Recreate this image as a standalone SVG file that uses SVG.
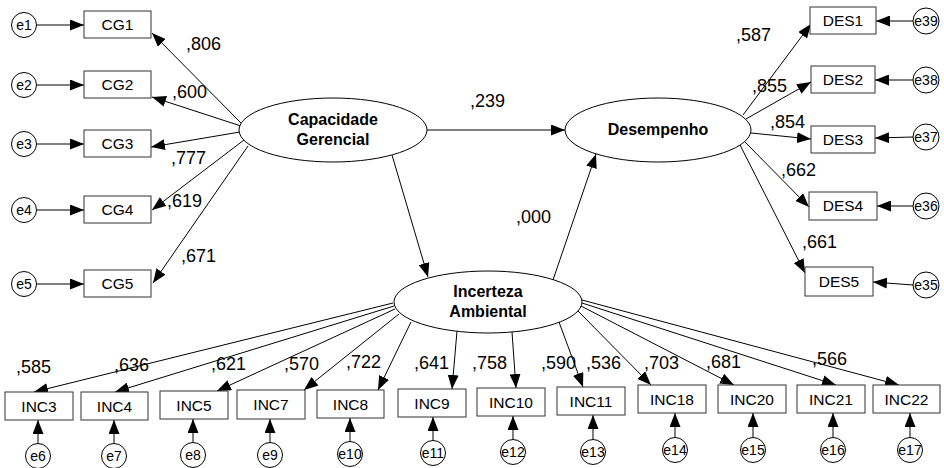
<svg xmlns="http://www.w3.org/2000/svg" width="944" height="468" viewBox="0 0 944 468">
<style>
text{font-family:"Liberation Sans",Arial,sans-serif;fill:#000}
.box{fill:#fff;stroke:#333;stroke-width:1}
.bt{font-size:15.5px;text-anchor:middle}
.err{fill:#fff;stroke:#000;stroke-width:1}
.et{font-size:14px;text-anchor:middle}
.lat{fill:#fff;stroke:#000;stroke-width:1}
.lt{font-size:16px;font-weight:bold;text-anchor:middle}
.num{font-size:18px}
.c line{stroke:#000;stroke-width:1;marker-end:url(#ah)}
</style>
<defs>
<marker id="ah" markerUnits="userSpaceOnUse" markerWidth="14" markerHeight="11" refX="14" refY="5.5" orient="auto"><path d="M0,0 L14,5.5 L0,11 z" fill="#000"/></marker>
</defs>
<rect width="944" height="468" fill="#fff"/>
<g id="connectors" class="c">
<line x1="37" y1="25" x2="84" y2="25"/>
<line x1="37" y1="85" x2="84" y2="85"/>
<line x1="37" y1="144" x2="84" y2="144"/>
<line x1="37" y1="210" x2="84" y2="210"/>
<line x1="37" y1="284" x2="84" y2="284"/>
<line x1="242" y1="124" x2="152" y2="33"/>
<line x1="241" y1="126" x2="152" y2="97"/>
<line x1="240" y1="132" x2="151" y2="147"/>
<line x1="244" y1="140" x2="152" y2="210"/>
<line x1="248" y1="146" x2="153" y2="283"/>
<line x1="427" y1="130" x2="565" y2="130"/>
<line x1="392" y1="155" x2="428" y2="277"/>
<line x1="553" y1="280" x2="596" y2="154"/>
<line x1="743" y1="115" x2="811" y2="24"/>
<line x1="746" y1="119" x2="811" y2="82"/>
<line x1="751" y1="133" x2="811" y2="139"/>
<line x1="745" y1="142" x2="809" y2="207"/>
<line x1="740" y1="145" x2="805" y2="273"/>
<line x1="913" y1="21" x2="876" y2="21"/>
<line x1="913" y1="80" x2="875" y2="80"/>
<line x1="913" y1="137" x2="875" y2="138"/>
<line x1="913" y1="206" x2="877" y2="206"/>
<line x1="913" y1="285" x2="873" y2="282"/>
<line x1="393" y1="303" x2="34" y2="392"/>
<line x1="394" y1="306" x2="115" y2="392"/>
<line x1="395" y1="309" x2="217" y2="391"/>
<line x1="399" y1="314" x2="304" y2="390"/>
<line x1="411" y1="322" x2="378" y2="390"/>
<line x1="457" y1="331" x2="452" y2="389"/>
<line x1="512" y1="332" x2="516" y2="388"/>
<line x1="559" y1="322" x2="583" y2="387"/>
<line x1="578" y1="311" x2="651" y2="385"/>
<line x1="581" y1="306" x2="734" y2="385"/>
<line x1="582" y1="303" x2="836" y2="385"/>
<line x1="582" y1="300" x2="899" y2="385"/>
<line x1="38" y1="443.5" x2="38" y2="420"/>
<line x1="114" y1="443.5" x2="114" y2="420"/>
<line x1="193" y1="442.5" x2="193" y2="419"/>
<line x1="270" y1="442.5" x2="270" y2="419"/>
<line x1="350" y1="441.5" x2="350" y2="418"/>
<line x1="433" y1="440.5" x2="433" y2="417"/>
<line x1="513" y1="439.5" x2="513" y2="416"/>
<line x1="593" y1="439.5" x2="593" y2="415"/>
<line x1="675" y1="437.5" x2="675" y2="413"/>
<line x1="753" y1="437.5" x2="753" y2="413"/>
<line x1="833" y1="437.5" x2="833" y2="413"/>
<line x1="910" y1="437.5" x2="910" y2="413"/>
</g>
<g id="labels" class="num">
<text class="num" x="186" y="50">,806</text>
<text class="num" x="172" y="98">,600</text>
<text class="num" x="171" y="164">,777</text>
<text class="num" x="167" y="207">,619</text>
<text class="num" x="181" y="262">,671</text>
<text class="num" x="470" y="107">,239</text>
<text class="num" x="516" y="223">,000</text>
<text class="num" x="736" y="41">,587</text>
<text class="num" x="752" y="92">,855</text>
<text class="num" x="770" y="128">,854</text>
<text class="num" x="781" y="176">,662</text>
<text class="num" x="802" y="248">,661</text>
<text class="num" x="16" y="373">,585</text>
<text class="num" x="114" y="371">,636</text>
<text class="num" x="211" y="370">,621</text>
<text class="num" x="284" y="370">,570</text>
<text class="num" x="346" y="368">,722</text>
<text class="num" x="414" y="369">,641</text>
<text class="num" x="472" y="369">,758</text>
<text class="num" x="541" y="369">,590</text>
<text class="num" x="586" y="369">,536</text>
<text class="num" x="644" y="369">,703</text>
<text class="num" x="706" y="368">,681</text>
<text class="num" x="812" y="365">,566</text>
</g>
<g id="CapacidadeGerencial"><ellipse class="lat" cx="333" cy="130" rx="94" ry="32"/><text class="lt" x="333" y="125">Capacidade</text><text class="lt" x="333" y="145">Gerencial</text></g>
<g id="Desempenho"><ellipse class="lat" cx="658" cy="130" rx="93" ry="32"/><text class="lt" x="658" y="135">Desempenho</text></g>
<g id="IncertezaAmbiental"><ellipse class="lat" cx="488" cy="302" rx="94" ry="31"/><text class="lt" x="488" y="297">Incerteza</text><text class="lt" x="488" y="317">Ambiental</text></g>
<g id="CG1"><rect class="box" x="84" y="11" width="67" height="27"/><text class="bt" x="117.5" y="30">CG1</text></g>
<g id="CG2"><rect class="box" x="84" y="71" width="67" height="27"/><text class="bt" x="117.5" y="90">CG2</text></g>
<g id="CG3"><rect class="box" x="84" y="130" width="67" height="27"/><text class="bt" x="117.5" y="149">CG3</text></g>
<g id="CG4"><rect class="box" x="84" y="196" width="67" height="27"/><text class="bt" x="117.5" y="215">CG4</text></g>
<g id="CG5"><rect class="box" x="84" y="270" width="67" height="27"/><text class="bt" x="117.5" y="289">CG5</text></g>
<g id="e1"><circle class="err" cx="24" cy="25" r="12.5"/><text class="et" x="24" y="30">e1</text></g>
<g id="e2"><circle class="err" cx="24" cy="85" r="12.5"/><text class="et" x="24" y="90">e2</text></g>
<g id="e3"><circle class="err" cx="24" cy="144" r="12.5"/><text class="et" x="24" y="149">e3</text></g>
<g id="e4"><circle class="err" cx="24" cy="210" r="12.5"/><text class="et" x="24" y="215">e4</text></g>
<g id="e5"><circle class="err" cx="24" cy="284" r="12.5"/><text class="et" x="24" y="289">e5</text></g>
<g id="DES1"><rect class="box" x="810" y="7" width="66" height="27"/><text class="bt" x="843" y="26">DES1</text></g>
<g id="DES2"><rect class="box" x="811" y="66" width="64" height="27"/><text class="bt" x="843" y="85">DES2</text></g>
<g id="DES3"><rect class="box" x="811" y="126" width="64" height="27"/><text class="bt" x="843" y="145">DES3</text></g>
<g id="DES4"><rect class="box" x="809" y="192" width="68" height="28"/><text class="bt" x="843" y="211">DES4</text></g>
<g id="DES5"><rect class="box" x="805" y="267" width="68" height="29"/><text class="bt" x="839" y="287">DES5</text></g>
<g id="e39"><circle class="err" cx="926" cy="21" r="13"/><text class="et" x="926" y="26">e39</text></g>
<g id="e38"><circle class="err" cx="926" cy="80" r="13"/><text class="et" x="926" y="85">e38</text></g>
<g id="e37"><circle class="err" cx="926" cy="137" r="13"/><text class="et" x="926" y="142">e37</text></g>
<g id="e36"><circle class="err" cx="926" cy="206" r="13"/><text class="et" x="926" y="211">e36</text></g>
<g id="e35"><circle class="err" cx="926" cy="285" r="13"/><text class="et" x="926" y="290">e35</text></g>
<g id="INC3"><rect class="box" x="5" y="392" width="68" height="28"/><text class="bt" x="39" y="411.5">INC3</text></g>
<g id="INC4"><rect class="box" x="81" y="392" width="67" height="28"/><text class="bt" x="114.5" y="411.5">INC4</text></g>
<g id="INC5"><rect class="box" x="160" y="391" width="68" height="28"/><text class="bt" x="194" y="410.5">INC5</text></g>
<g id="INC7"><rect class="box" x="237" y="390" width="68" height="29"/><text class="bt" x="271" y="410">INC7</text></g>
<g id="INC8"><rect class="box" x="317" y="390" width="67" height="28"/><text class="bt" x="350.5" y="409.5">INC8</text></g>
<g id="INC9"><rect class="box" x="398" y="389" width="68" height="28"/><text class="bt" x="432" y="408.5">INC9</text></g>
<g id="INC10"><rect class="box" x="477" y="388" width="68" height="28"/><text class="bt" x="511" y="407.5">INC10</text></g>
<g id="INC11"><rect class="box" x="557" y="387" width="68" height="28"/><text class="bt" x="591" y="406.5">INC11</text></g>
<g id="INC18"><rect class="box" x="638" y="385" width="68" height="28"/><text class="bt" x="672" y="404.5">INC18</text></g>
<g id="INC20"><rect class="box" x="718" y="385" width="68" height="28"/><text class="bt" x="752" y="404.5">INC20</text></g>
<g id="INC21"><rect class="box" x="797" y="385" width="68" height="28"/><text class="bt" x="831" y="404.5">INC21</text></g>
<g id="INC22"><rect class="box" x="873" y="385" width="67" height="28"/><text class="bt" x="906.5" y="404.5">INC22</text></g>
<g id="e6"><circle class="err" cx="38" cy="456" r="12.5"/><text class="et" x="38" y="461">e6</text></g>
<g id="e7"><circle class="err" cx="114" cy="456" r="12.5"/><text class="et" x="114" y="461">e7</text></g>
<g id="e8"><circle class="err" cx="193" cy="455" r="12.5"/><text class="et" x="193" y="460">e8</text></g>
<g id="e9"><circle class="err" cx="270" cy="455" r="12.5"/><text class="et" x="270" y="460">e9</text></g>
<g id="e10"><circle class="err" cx="350" cy="454" r="12.5"/><text class="et" x="350" y="459">e10</text></g>
<g id="e11"><circle class="err" cx="433" cy="453" r="12.5"/><text class="et" x="433" y="458">e11</text></g>
<g id="e12"><circle class="err" cx="513" cy="452" r="12.5"/><text class="et" x="513" y="457">e12</text></g>
<g id="e13"><circle class="err" cx="593" cy="452" r="12.5"/><text class="et" x="593" y="457">e13</text></g>
<g id="e14"><circle class="err" cx="675" cy="450" r="12.5"/><text class="et" x="675" y="455">e14</text></g>
<g id="e15"><circle class="err" cx="753" cy="450" r="12.5"/><text class="et" x="753" y="455">e15</text></g>
<g id="e16"><circle class="err" cx="833" cy="450" r="12.5"/><text class="et" x="833" y="455">e16</text></g>
<g id="e17"><circle class="err" cx="910" cy="450" r="12.5"/><text class="et" x="910" y="455">e17</text></g>
</svg>
